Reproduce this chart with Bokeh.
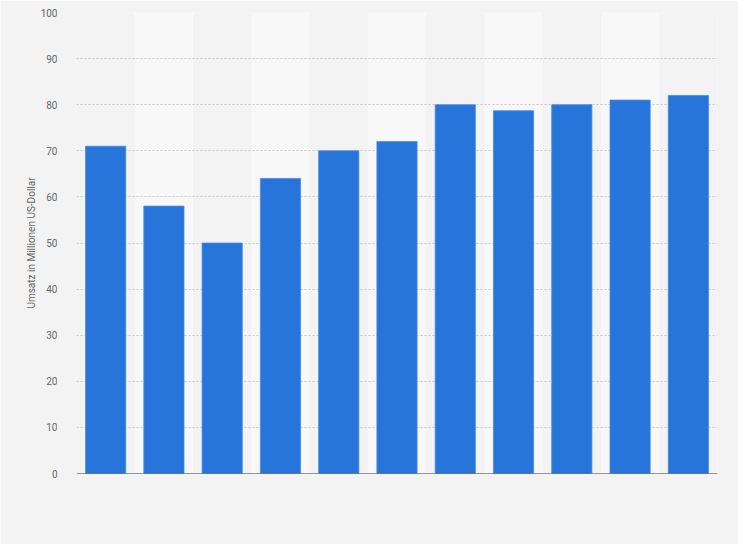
from bokeh.plotting import figure
from bokeh.models import FactorRange, Range1d, SingleIntervalTicker, ColumnDataSource, Span
from bokeh.embed import file_html
from bokeh.resources import INLINE

categories = ["1", "2", "3", "4", "5", "6", "7", "8", "9", "10", "11"]
values = [71, 58, 50, 64, 70, 72, 80, 78.7, 80, 81, 82]
y_label = "Umsatz in Millionen US-Dollar"

BG = "#f3f3f3"
BAND = "#f8f8f8"
BAR = "#2775db"

p = figure(width=738, height=544, x_range=FactorRange(*categories, range_padding=0),
           y_range=Range1d(0, 100), output_backend="svg", toolbar_location=None,
           min_border_left=76, min_border_right=21, min_border_top=12, min_border_bottom=71)
p.background_fill_color = BG
p.border_fill_color = BG
p.outline_line_color = None

band_cats = categories[1::2]
p.vbar(x=band_cats, top=[100] * len(band_cats), width=1.0, fill_color=BAND, line_color=None,
       level="underlay")

src = ColumnDataSource(dict(x=categories, top=values))
p.vbar(x="x", top="top", width=0.69, source=src, fill_color=BAR, line_color="#4a8be3", line_width=0.8)

p.xgrid.grid_line_color = None
p.ygrid.grid_line_color = "#c8c8c8"
p.ygrid.grid_line_dash = "2 2"
p.ygrid.grid_line_width = 1
p.ygrid.level = "underlay"

p.yaxis.ticker = SingleIntervalTicker(interval=10)
p.yaxis.axis_line_color = None
p.yaxis.major_tick_line_color = None
p.yaxis.minor_tick_line_color = None
p.yaxis.major_label_text_font = "Roboto"
p.yaxis.major_label_text_font_size = "10px"
p.yaxis.major_label_text_color = "#666666"
p.yaxis.major_label_standoff = 13
p.yaxis.axis_label = y_label
p.yaxis.axis_label_text_font = "Roboto"
p.yaxis.axis_label_text_font_size = "10px"
p.yaxis.axis_label_text_font_style = "normal"
p.yaxis.axis_label_text_color = "#666666"
p.yaxis.axis_label_standoff = 1

p.xaxis.visible = False
p.add_layout(Span(location=0, dimension="width", line_color="#333333", line_width=1.2))

open("out.html", "w").write(file_html(p, INLINE))
